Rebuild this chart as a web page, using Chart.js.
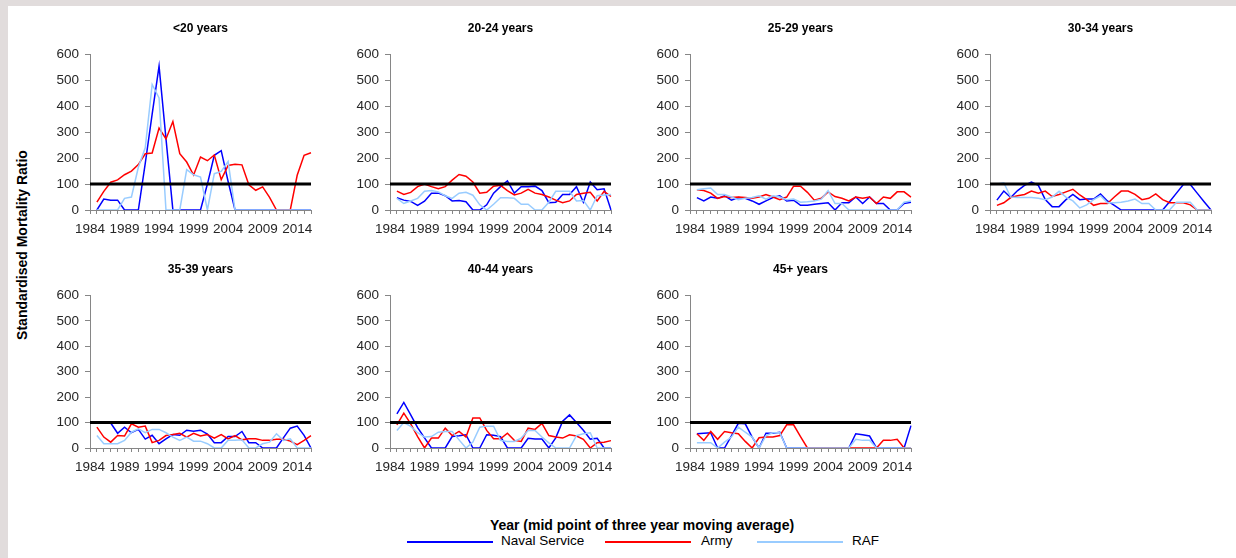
<!DOCTYPE html>
<html lang="en">
<head>
    <meta charset="UTF-8">
    <title>Standardised Mortality Ratio by age group</title>
    <script src="https://cdn.jsdelivr.net/npm/chart.js"></script>
    <style>
        body {
            margin: 0;
            font-family: 'Liberation Sans', Arial, sans-serif;
            overflow: hidden;
        }

        #wrap {
            position: relative;
            width: 1236px;
            height: 558px;
            background-color: #e1dcdc;
        }

        #sheet {
            position: absolute;
            left: 8px;
            top: 6px;
            right: 0;
            bottom: 0;
            background-color: #fff;
        }

        canvas {
            position: absolute;
        }

        .axis-title {
            position: absolute;
            font-weight: bold;
            font-size: 14px;
            color: #000;
            white-space: nowrap;
        }

        #yTitle {
            left: 22px;
            top: 245px;
            transform: translate(-50%, -50%) rotate(-90deg);
        }

        #xTitle {
            left: 642px;
            top: 525px;
            transform: translate(-50%, -50%);
        }

        .key-line {
            position: absolute;
            top: 541px;
            width: 86px;
            height: 1.5px;
        }

        .key-text {
            position: absolute;
            top: 533px;
            font-size: 13.5px;
            line-height: 16px;
            color: #000;
        }
    </style>
</head>
<body>
    <div id="wrap">
        <div id="sheet"></div>
        <div class="axis-title" id="yTitle">Standardised Mortality Ratio</div>
        <div class="axis-title" id="xTitle">Year (mid point of three year moving average)</div>

        <div class="key-line" style="left:407px; background:#0000ff;"></div>
        <div class="key-text" style="left:501px;">Naval Service</div>
        <div class="key-line" style="left:605px; background:#ff0000;"></div>
        <div class="key-text" style="left:701px;">Army</div>
        <div class="key-line" style="left:757px; background:#99ccff; height:2px;"></div>
        <div class="key-text" style="left:852px;">RAF</div>
    </div>

    <script>
        // x categories (mid point of three year moving average); 1984 has no value
        const years = [1984, 1985, 1986, 1987, 1988, 1989, 1990, 1991, 1992, 1993, 1994,
            1995, 1996, 1997, 1998, 1999, 2000, 2001, 2002, 2003, 2004, 2005, 2006,
            2007, 2008, 2009, 2010, 2011, 2012, 2013, 2014, 2015, 2016];

        const yTicks = [0, 100, 200, 300, 400, 500, 600];
        const refValue = 100;   // SMR of 100 = same rate as the comparison population

        const ageGroups = ['<20 years', '20-24 years', '25-29 years', '30-34 years',
            '35-39 years', '40-44 years', '45+ years'];

        // <20 years
        const navalU20 = [null, 0, 42, 38, 38, 0, 0, 0, 180, 370, 555, 275, 0, 0, 0, 0, 0, 100, 211, 229, 110, 0, 0, 0, 0, 0, 0, 0, 0, 0, 0, 0, 0];
        const armyU20 = [null, 30, 72, 107, 116, 136, 150, 175, 217, 220, 316, 274, 341, 217, 185, 135, 204, 190, 212, 117, 172, 176, 174, 97, 76, 89, 49, 0, 0, 0, 134, 211, 221];
        const rafU20 = [null, 0, 0, 0, 0, 45, 50, 165, 240, 484, 432, 0, 0, 0, 156, 136, 127, 0, 140, 149, 187, 0, 0, 0, 0, 0, 0, 0, 0, 0, 0, 0, 0];

        // 20-24 years
        const naval2024 = [null, 47, 38, 33, 18, 34, 65, 65, 55, 35, 37, 32, 0, 0, 20, 65, 90, 112, 65, 90, 90, 92, 75, 28, 30, 60, 60, 90, 30, 108, 78, 82, 0];
        const army2024 = [null, 73, 60, 68, 90, 100, 90, 82, 90, 115, 137, 130, 108, 65, 68, 92, 95, 75, 58, 65, 80, 65, 60, 50, 38, 28, 35, 60, 65, 68, 35, 72, 52];
        const raf2024 = [null, 45, 25, 35, 45, 72, 75, 70, 55, 45, 65, 68, 57, 20, 0, 22, 47, 47, 45, 22, 22, 0, 0, 30, 72, 72, 72, 35, 37, 0, 55, 58, 60];

        // 25-29 years
        const naval2529 = [null, 48, 35, 50, 45, 55, 38, 48, 45, 35, 22, 35, 48, 55, 35, 38, 18, 18, 22, 25, 28, 0, 28, 28, 50, 25, 50, 25, 25, 0, 0, 25, 30];
        const army2529 = [null, 78, 75, 65, 45, 52, 48, 50, 48, 45, 50, 60, 50, 40, 50, 92, 92, 68, 38, 45, 70, 52, 45, 35, 50, 45, 50, 25, 50, 45, 70, 70, 50];
        const raf2529 = [null, 78, 82, 85, 60, 60, 50, 40, 45, 48, 55, 42, 55, 50, 40, 42, 30, 32, 35, 42, 75, 25, 25, 0, 0, 0, 0, 0, 0, 0, 0, 30, 35];

        // 30-34 years
        const naval3034 = [null, 38, 73, 48, 75, 95, 108, 95, 40, 13, 13, 40, 60, 40, 42, 42, 62, 35, 18, 0, 0, 0, 0, 0, 0, 0, 32, 65, 98, 98, 65, 32, 0];
        const army3034 = [null, 18, 28, 48, 55, 60, 73, 65, 73, 52, 60, 70, 80, 58, 40, 18, 25, 25, 50, 73, 73, 60, 40, 45, 62, 40, 28, 28, 28, 20, 0, 0, 0];
        const raf3034 = [null, 100, 105, 50, 48, 48, 48, 45, 40, 50, 72, 50, 35, 8, 20, 40, 55, 28, 28, 30, 35, 42, 25, 25, 0, 0, 0, 30, 30, 30, 0, 0, 0];

        // 35-39 years
        const naval3539 = [null, 102, 100, 98, 58, 82, 60, 73, 35, 50, 17, 36, 53, 50, 70, 66, 70, 55, 21, 21, 45, 45, 65, 21, 21, 0, 0, 0, 40, 78, 86, 50, 0];
        const army3539 = [null, 82, 43, 23, 49, 47, 95, 82, 86, 21, 30, 49, 53, 58, 43, 58, 47, 53, 39, 53, 36, 49, 32, 36, 36, 30, 30, 34, 34, 27, 13, 30, 49];
        const raf3539 = [null, 49, 17, 17, 17, 30, 62, 75, 60, 73, 73, 60, 43, 30, 43, 27, 27, 17, 0, 0, 30, 30, 32, 0, 0, 17, 23, 56, 30, 36, 0, 0, 0];

        // 40-44 years
        const naval4044 = [null, 134, 179, 130, 80, 40, 0, 0, 0, 45, 48, 52, 0, 0, 52, 50, 45, 0, 0, 0, 38, 35, 35, 0, 40, 105, 130, 100, 70, 35, 38, 0, 0];
        const army4044 = [null, 91, 137, 95, 45, 0, 39, 39, 78, 49, 65, 43, 118, 118, 69, 36, 36, 58, 30, 26, 78, 73, 97, 49, 43, 39, 52, 47, 34, 0, 21, 23, 29];
        const raf4044 = [null, 69, 100, 85, 60, 43, 45, 62, 65, 65, 32, 0, 23, 82, 86, 86, 30, 26, 26, 39, 69, 69, 43, 20, 0, 0, 0, 49, 56, 60, 0, 0, 0];

        // 45+ years
        const naval45 = [null, 56, 58, 60, 0, 0, 48, 97, 95, 43, 0, 58, 58, 62, 0, 0, 0, 0, 0, 0, 0, 0, 0, 0, 56, 52, 47, 0, 0, 0, 0, 0, 88];
        const army45 = [null, 56, 30, 65, 34, 65, 60, 56, 26, 0, 40, 43, 43, 49, 91, 91, 45, 0, 0, 0, 0, 0, 0, 0, 0, 0, 0, 0, 30, 30, 34, 0, 0];
        const raf45 = [null, 21, 21, 21, 0, 23, 43, 82, 62, 43, 0, 49, 60, 60, 0, 0, 0, 0, 0, 0, 0, 0, 0, 0, 34, 30, 30, 0, 0, 0, 0, 0, 0];

        const panelSeries = [
            [navalU20, armyU20, rafU20],
            [naval2024, army2024, raf2024],
            [naval2529, army2529, raf2529],
            [naval3034, army3034, raf3034],
            [naval3539, army3539, raf3539],
            [naval4044, army4044, raf4044],
            [naval45, army45, raf45],
        ];

        const tickFont = { family: "'Liberation Sans', Arial, sans-serif", size: 13.5 };
        const axisGrey = '#868686';

        function makePanel(i) {
            const col = i % 4;
            const row = Math.floor(i / 4);
            const [naval, army, raf] = panelSeries[i];

            const canvas = document.createElement('canvas');
            canvas.width = 278;
            canvas.height = row === 0 ? 230 : 227;
            canvas.style.left = (40 + col * 300) + 'px';
            canvas.style.top = (row === 0 ? 10 : 251) + 'px';
            document.getElementById('wrap').appendChild(canvas);

            new Chart(canvas, {
                type: 'line',
                data: {
                    labels: years,
                    datasets: [
                        { label: 'SMR 100', data: years.map(() => refValue), borderColor: '#000', borderWidth: 3, order: 0 },
                        { label: 'RAF', data: raf, borderColor: '#99ccff', order: 1 },
                        { label: 'Army', data: army, borderColor: '#ff0000', order: 2 },
                        { label: 'Naval Service', data: naval, borderColor: '#0000ff', order: 3 },
                    ],
                },
                options: {
                    responsive: false,
                    animation: false,
                    layout: { padding: { right: 2 } },
                    elements: {
                        point: { radius: 0 },
                        line: { borderWidth: 1.5, tension: 0, fill: false },
                    },
                    plugins: {
                        legend: { display: false },
                        tooltip: { enabled: false },
                        title: {
                            display: true,
                            text: ageGroups[i],
                            fullSize: false,
                            color: '#000',
                            font: { family: tickFont.family, size: 12, weight: 'bold' },
                            padding: { top: 11, bottom: 19 },
                        },
                    },
                    scales: {
                        x: {
                            offset: false,
                            grid: { drawOnChartArea: false, tickLength: 4, color: axisGrey },
                            border: { color: axisGrey },
                            ticks: {
                                autoSkip: false,
                                maxRotation: 0,
                                padding: 7,
                                color: '#262626',
                                font: tickFont,
                                callback: (v, idx) => (idx % 5 === 0 ? years[idx] : ''),
                            },
                            afterFit: (scale) => { scale.height = 30; },
                        },
                        y: {
                            min: yTicks[0],
                            max: yTicks[yTicks.length - 1],
                            grid: { drawOnChartArea: false, tickLength: 5, color: axisGrey },
                            border: { color: axisGrey },
                            ticks: { stepSize: 100, padding: 6, color: '#262626', font: tickFont },
                            afterFit: (scale) => { scale.width = 50; },
                        },
                    },
                },
            });
        }

        ageGroups.forEach((g, i) => makePanel(i));
    </script>
</body>
</html>
